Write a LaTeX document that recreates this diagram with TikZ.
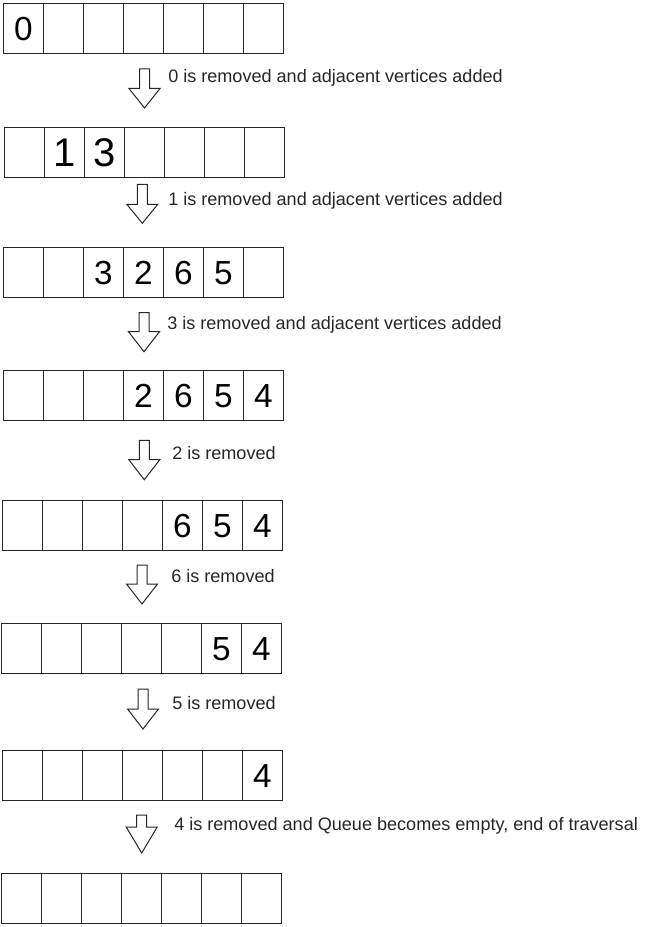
\documentclass[tikz,border=0pt]{standalone}
\usepackage{fontspec}
\setmainfont{Liberation Sans}
\begin{document}
\begin{tikzpicture}[x=0.75pt,y=-0.75pt,
  cellbox/.style={draw=black!85,line width=0.75pt,minimum width=30pt,minimum height=37.5pt,inner sep=0pt,anchor=north west,font=\fontsize{25}{30}\selectfont,text=black,text height=17.9pt,text depth=0pt},
  bigcell/.style={cellbox,font=\fontsize{30}{36}\selectfont,text height=21.5pt},
  labeltext/.style={anchor=base west,inner sep=0pt,font=\fontsize{13.55}{16}\selectfont,text=black!85},
  blockarrowstyle/.style={draw=black!85,line width=0.75pt,fill=white,line join=miter}]
\useasboundingbox (0,0) rectangle (647,927);
\newcommand\qrow[9]{%
  \foreach \v [count=\i from 0] in {#3,#4,#5,#6,#7,#8,#9}
    \node[cellbox] (#1-\i) at ({#2+40*\i},\rowy) {\v};}
\newcommand\mkarrow[5]{%
  \draw[blockarrowstyle] (#2-5,#3) -- (#2+5,#3) -- (#2+5,#4) -- (#2+15.5,#4) -- (#2,#5) -- (#2-15.5,#4) -- (#2-5,#4) -- cycle;
  \coordinate (#1) at (#2,#5);}
% row 1
\def\rowy{3}\qrow{ra}{3}{0}{}{}{}{}{}{}
% row 2
\node[cellbox] (rb-0) at (4,127) {};
\node[bigcell] (rb-1) at (44,127) {1};
\node[bigcell] (rb-2) at (84,127) {3};
\node[cellbox] (rb-3) at (124,127) {};
\node[cellbox] (rb-4) at (164,127) {};
\node[cellbox] (rb-5) at (204,127) {};
\node[cellbox] (rb-6) at (244,127) {};
% row 3
\def\rowy{247}\qrow{rc}{3}{}{}{3}{2}{6}{5}{}
% row 4
\def\rowy{370}\qrow{rd}{3}{}{}{}{2}{6}{5}{4}
% row 5
\def\rowy{500}\qrow{re}{2}{}{}{}{}{6}{5}{4}
% row 6
\def\rowy{623}\qrow{rf}{1}{}{}{}{}{}{5}{4}
% row 7
\def\rowy{750}\qrow{rg}{2}{}{}{}{}{}{}{4}
% row 8
\def\rowy{873}\qrow{rh}{1}{}{}{}{}{}{}{}
% arrows
\mkarrow{a1}{144.5}{69}{88.5}{108}
\mkarrow{a2}{142.3}{184.3}{204.3}{223.3}
\mkarrow{a3}{144}{312.7}{331.7}{351.7}
\mkarrow{a4}{144.3}{440.3}{459.7}{479.7}
\mkarrow{a5}{142}{565}{584}{604}
\mkarrow{a6}{143}{689}{709}{729}
\mkarrow{a7}{141.7}{815}{827}{853}
% labels
\node[labeltext] (l1) at (168,83) {0 is removed and adjacent vertices added};
\node[labeltext] (l2) at (168,206) {1 is removed and adjacent vertices added};
\node[labeltext] (l3) at (167,329) {3 is removed and adjacent vertices added};
\node[labeltext] (l4) at (172,459) {2 is removed};
\node[labeltext] (l5) at (171,582) {6 is removed};
\node[labeltext] (l6) at (172,709) {5 is removed};
\node[labeltext] (l7) at (174,830) {4 is removed and Queue becomes empty, end of traversal};
\end{tikzpicture}
\end{document}
